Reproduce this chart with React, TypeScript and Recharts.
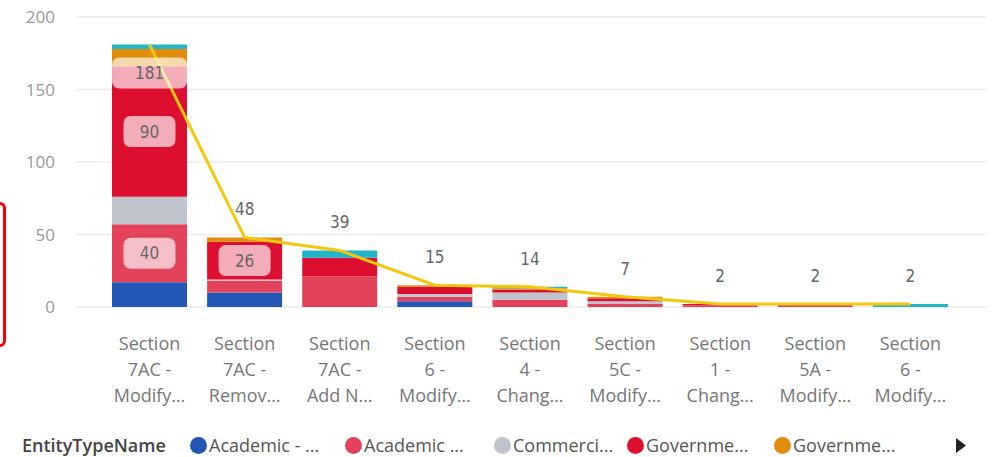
import { ComposedChart, Bar, Line, XAxis, YAxis, CartesianGrid, LabelList } from 'recharts';

const categories = [
    'Section\n7AC -\nModify…',
    'Section\n7AC -\nRemov…',
    'Section\n7AC -\nAdd N…',
    'Section\n6 -\nModify…',
    'Section\n4 -\nChang…',
    'Section\n5C -\nModify…',
    'Section\n1 -\nChang…',
    'Section\n5A -\nModify…',
    'Section\n6 -\nModify…',
];

// stacked series, bottom to top
const academicA = [17, 10, 0, 4, 0, 0, 0, 0, 0];
const academicB = [40, 8, 21, 3, 5, 2, 1, 2, 0];
const commercial = [19, 1, 0, 2, 5, 2, 0, 0, 0];
const governmentA = [90, 26, 13, 5, 2, 2, 1, 0, 0];
const governmentB = [12, 3, 0, 1, 1, 1, 0, 0, 0];
const other = [3, 0, 5, 0, 1, 0, 0, 0, 2];

// line series (count per section)
const totals = [181, 48, 39, 15, 14, 7, 2, 2, 2];

const yTicks = [0, 50, 100, 150, 200];

const legendTitle = 'EntityTypeName';
const legendLabels = ['Academic - ...', 'Academic ...', 'Commerci...', 'Governme...', 'Governme...'];
const legendWidths = [155, 149, 133, 147, 120];

const series = [
    { key: 'academicA', color: '#2457B5' },
    { key: 'academicB', color: '#E3425B' },
    { key: 'commercial', color: '#BFC4CC' },
    { key: 'governmentA', color: '#DC0F31' },
    { key: 'governmentB', color: '#E08D0B' },
    { key: 'other', color: '#22B5C8' },
];

const data = categories.map((name, i) => ({
    name,
    academicA: academicA[i],
    academicB: academicB[i],
    commercial: commercial[i],
    governmentA: governmentA[i],
    governmentB: governmentB[i],
    other: other[i],
    total: totals[i],
}));

const LABEL_FONT = "'DejaVu Sans Condensed', 'Liberation Sans Narrow', sans-serif";
const UI_FONT = "'Open Sans', 'Noto Sans', sans-serif";

const CategoryTick = ({ x, y, payload }: any) => {
    const lines = String(payload.value).split('\n');
    return (
        <text x={x} y={y + 35} textAnchor="middle" fill="#777" fontSize={18} fontFamily={UI_FONT}>
            {lines.map((l, i) => (
                <tspan key={i} x={x} dy={i === 0 ? 0 : 26}>{l}</tspan>
            ))}
        </text>
    );
};

// value box inside a segment, only where it fits
const SegmentLabel = ({ x, y, width, height, value }: any) => {
    if (!value || height < 35) return null;
    const cx = x + width / 2;
    const cy = y + height / 2;
    return (
        <g>
            <rect x={cx - 26} y={cy - 15.5} width={52} height={31} rx={7} fill="#fff" fillOpacity={0.66} />
            <text x={cx} y={cy + 6} textAnchor="middle" fill="#666" fontSize={17} fontFamily={LABEL_FONT}>{value}</text>
        </g>
    );
};

// line labels: above the point, or boxed below it near the top of the plot
const TotalLabel = ({ x, y, value }: any) => {
    if (y < 60) {
        return (
            <g>
                <rect x={x - 37.5} y={y + 13} width={75} height={31} rx={7} fill="#fff" fillOpacity={0.66} />
                <text x={x} y={y + 34.5} textAnchor="middle" fill="#666" fontSize={17} fontFamily={LABEL_FONT}>{value}</text>
            </g>
        );
    }
    return (
        <text x={x} y={y - 22} textAnchor="middle" fill="#666" fontSize={17} fontFamily={LABEL_FONT}>{value}</text>
    );
};

export default function App() {
    return (
        <div style={{ position: 'absolute', left: 0, top: 0, width: 994, height: 457, background: '#fff', overflow: 'hidden' }}>
            <ComposedChart width={994} height={420} data={data} margin={{ top: 17, right: 7, bottom: 0, left: 0 }}>
                <CartesianGrid vertical={false} stroke="#EBEBEB" strokeWidth={1.5} />
                <XAxis
                    dataKey="name"
                    interval={0}
                    axisLine={false}
                    tickLine={false}
                    height={113}
                    padding={{ left: 26, right: 29 }}
                    tick={<CategoryTick />}
                />
                <YAxis
                    domain={[0, 200]}
                    ticks={yTicks}
                    width={76}
                    axisLine={false}
                    tickLine={false}
                    tickMargin={15}
                    tick={{ fill: '#999', fontSize: 17, fontFamily: UI_FONT }}
                />
                {series.map((s) => (
                    <Bar key={s.key} dataKey={s.key} stackId="a" fill={s.color} barSize={75} isAnimationActive={false}>
                        <LabelList dataKey={s.key} content={<SegmentLabel />} />
                    </Bar>
                ))}
                <Line
                    dataKey="total"
                    type="linear"
                    stroke="#F2C80F"
                    strokeWidth={3}
                    dot={false}
                    activeDot={false}
                    isAnimationActive={false}
                >
                    <LabelList dataKey="total" content={<TotalLabel />} />
                </Line>
            </ComposedChart>

            {/* legend */}
            <div style={{ position: 'absolute', left: 22, top: 431, height: 28, display: 'flex', alignItems: 'center', fontFamily: UI_FONT, fontSize: 18, color: '#555', whiteSpace: 'nowrap' }}>
                <span style={{ width: 168, fontWeight: 600, color: '#444' }}>{legendTitle}</span>
                {legendLabels.map((label, i) => (
                    <span key={i} style={{ display: 'flex', alignItems: 'center', width: legendWidths[i] }}>
                        <span style={{ width: 17, height: 17, borderRadius: 9, background: series[i].color, marginRight: 2, flexShrink: 0 }} />
                        {label}
                    </span>
                ))}
            </div>
            <svg style={{ position: 'absolute', left: 955, top: 437 }} width={12} height={17}>
                <polygon points="1,1 11,8.5 1,16" fill="#222" />
            </svg>

            {/* selection frame at the left edge */}
            <div style={{ position: 'absolute', left: -23, top: 202, width: 29, height: 145, boxSizing: 'border-box', border: '3px solid #f00', borderRadius: 6 }} />
        </div>
    );
}
